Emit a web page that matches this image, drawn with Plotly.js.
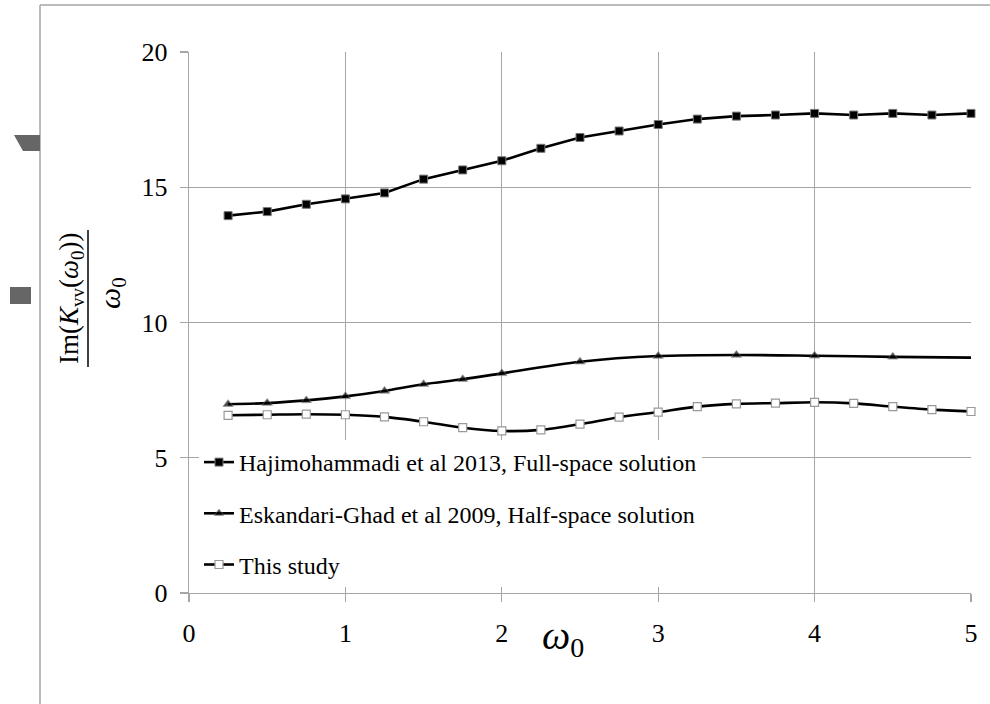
<!DOCTYPE html>
<html><head><meta charset="utf-8">
<script src="https://cdn.plot.ly/plotly-3.0.1.min.js"></script>
<style>html,body{margin:0;padding:0;background:#fff}</style>
</head><body>
<div id="chart" style="width:990px;height:704px"></div>
<script>
const omega = [0.25,0.5,0.75,1,1.25,1.5,1.75,2,2.25,2.5,2.75,3,3.25,3.5,3.75,4,4.25,4.5,4.75,5];
const hajiY = [13.95,14.1,14.37,14.57,14.79,15.3,15.64,15.98,16.44,16.84,17.08,17.32,17.52,17.63,17.67,17.73,17.67,17.73,17.67,17.73];
const eskX = [0.25,0.5,0.75,1,1.25,1.5,1.75,2,2.5,3,3.5,4,4.5,5];
const eskY = [6.98,7.02,7.12,7.27,7.47,7.72,7.9,8.12,8.55,8.76,8.8,8.77,8.73,8.7];
const studyY = [6.57,6.59,6.61,6.59,6.51,6.33,6.11,5.99,6.03,6.24,6.5,6.69,6.89,6.99,7.02,7.05,7.01,6.89,6.78,6.71];
const seriesNames = ["Hajimohammadi et al 2013, Full-space solution","Eskandari-Ghad et al 2009, Half-space solution","This study"];
const xTicks = [0,1,2,3,4,5];
const yTicks = [0,5,10,15,20];

const FONT = "Liberation Serif, Times New Roman, serif";
const GRID = "#a6a6a6";
const W = 990, H = 704, L = 189, R = 19, T = 52, B = 111;
const pw = W - L - R, ph = H - T - B;
const px = v => (v - L) / pw;
const py = v => (H - B - v) / ph;

const traces = [
  {x: omega, y: hajiY, name: seriesNames[0], mode: "lines+markers", legendgroup: "a",
   line: {color: "#000", width: 2.6},
   marker: {symbol: "square", size: 8, color: "#000", line: {color: "#777", width: 1}},
   cliponaxis: false},
  {x: eskX, y: eskY, name: seriesNames[1], mode: "lines+markers", legendgroup: "b",
   line: {color: "#000", width: 2.6, shape: "spline", smoothing: 0.8},
   marker: {symbol: "triangle-up", size: eskX.map((v, i) => i === eskX.length - 1 ? 0 : 9), color: "#000", line: {color: "#777", width: 0.8}},
   cliponaxis: false},
  {x: omega, y: studyY, name: seriesNames[2], mode: "lines+markers", legendgroup: "c",
   line: {color: "#000", width: 2.6, shape: "spline", smoothing: 0.8},
   marker: {symbol: "square", size: 8, color: "#fff", line: {color: "#999", width: 1.2}},
   cliponaxis: false}
];

const axisCommon = {
  showgrid: true, gridcolor: GRID, gridwidth: 1.3,
  showline: true, linecolor: GRID, linewidth: 1.3,
  ticks: "outside", ticklen: 8, tickcolor: GRID, tickwidth: 1.3,
  tickfont: {family: FONT, size: 26, color: "#000"},
  zeroline: false, fixedrange: true
};

const layout = {
  width: W, height: H,
  margin: {l: L, r: R, t: T, b: B, pad: 0},
  paper_bgcolor: "#fff", plot_bgcolor: "#fff",
  font: {family: FONT, color: "#000"},
  showlegend: true,
  xaxis: Object.assign({}, axisCommon, {range: [0, 5], tickvals: xTicks, ticktext: xTicks.map(String), ticklabelstandoff: 8}),
  yaxis: Object.assign({}, axisCommon, {range: [0, 20], tickvals: yTicks, ticktext: yTicks.map(String), ticklabelstandoff: 7}),
  legend: {x: px(199), y: py(440), xanchor: "left", yanchor: "top", bgcolor: "#fff", borderwidth: 0,
    font: {family: FONT, size: 24, color: "#000"}, traceorder: "grouped", tracegroupgap: 17, itemwidth: 30},
  annotations: [
    {xref: "paper", yref: "paper", x: px(71), y: py(299), xanchor: "center", yanchor: "middle", textangle: -90,
     text: "Im(<i>K</i><sub>vv</sub>(<i>ω</i><sub>0</sub>))", showarrow: false, font: {family: FONT, size: 27, color: "#000"}},
    {xref: "paper", yref: "paper", x: px(112), y: py(293), xanchor: "center", yanchor: "middle", textangle: -90,
     text: "<i>ω</i><sub>0</sub>", showarrow: false, font: {family: FONT, size: 30, color: "#000"}},
    {xref: "paper", yref: "paper", x: px(563), y: py(638), xanchor: "center", yanchor: "middle",
     text: "<i>ω</i><sub>0</sub>", showarrow: false, font: {family: FONT, size: 40, color: "#000"}}
  ],
  shapes: [
    {type: "line", xref: "paper", yref: "paper", x0: px(88), x1: px(88), y0: py(230), y1: py(367), line: {color: "#000", width: 1.5}},
    {type: "line", xref: "paper", yref: "paper", x0: px(40), x1: px(40), y0: py(5), y1: py(704), line: {color: GRID, width: 1.5}},
    {type: "line", xref: "paper", yref: "paper", x0: px(40), x1: px(990), y0: py(5), y1: py(5), line: {color: GRID, width: 1.5}},
    {type: "path", xref: "paper", yref: "paper",
     path: `M ${px(14)} ${py(135)} L ${px(40)} ${py(135)} L ${px(40)} ${py(151)} L ${px(23)} ${py(151)} Z`,
     fillcolor: "#666", line: {width: 0}},
    {type: "rect", xref: "paper", yref: "paper", x0: px(10), x1: px(31), y0: py(304), y1: py(287), fillcolor: "#666", line: {width: 0}}
  ]
};

Plotly.newPlot("chart", traces, layout, {displayModeBar: false, staticPlot: true});
</script>
</body></html>
